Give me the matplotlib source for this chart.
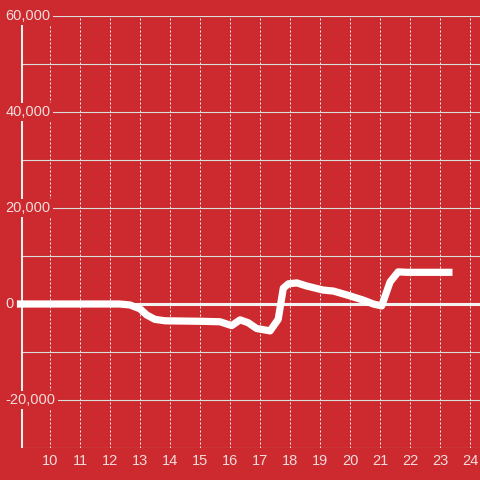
import matplotlib
matplotlib.use("Agg")
import matplotlib.pyplot as plt
from matplotlib.transforms import blended_transform_factory

# hour of day vs. cumulative value
hours = [9.0, 12.3, 12.65, 12.98, 13.21, 13.48, 13.82, 15.0, 15.65, 16.04, 16.32,
         16.59, 16.87, 17.32, 17.59, 17.76, 17.93, 18.21, 18.54, 19.09, 19.43,
         19.98, 20.43, 20.76, 21.04, 21.32, 21.59, 21.87, 23.28]
values = [0, 0, -200, -1000, -2300, -3200, -3500, -3600, -3700, -4500, -3300,
          -3900, -5100, -5600, -3200, 3300, 4200, 4400, 3750, 2900, 2700,
          1700, 800, 0, -400, 4600, 6700, 6600, 6600]

x_ticks = list(range(10, 25))
y_grid = list(range(-30000, 60001, 10000))
y_labels = [-20000, 0, 20000, 40000, 60000]

bg = '#cc2a2e'
txt = '#f4dcdc'
plt.rcParams['font.family'] = ['Liberation Sans', 'DejaVu Sans']

fig = plt.figure(figsize=(4.8, 4.8), dpi=100, facecolor=bg)
ax = fig.add_axes([20.5 / 480, 32 / 480, 459.5 / 480, 432 / 480], facecolor=bg)
ax.set_xlim(9, 24.317)
ax.set_ylim(-30000, 60000)
for s in ax.spines.values():
    s.set_visible(False)

ax.set_axisbelow(True)
ax.set_yticks(y_grid)
ax.set_yticklabels([])
ax.set_xticks(x_ticks)
ax.set_xticklabels([str(t) for t in x_ticks])
ax.tick_params(axis='both', length=0)
ax.tick_params(axis='x', pad=4.5, labelsize=10.5, labelcolor=txt)
ax.grid(axis='y', color='#dcdcdc', lw=0.8, ls='-')
ax.grid(axis='x', color='#eeeeee', lw=0.72, ls=(0, (2, 2)))

# y axis line and zero line
ax.axvline(9, color='#f0f0f0', lw=2.2, zorder=0.6)
ax.axhline(0, color='#f2f2f2', lw=2.2, zorder=1)

ax.plot(hours, values, color='white', lw=5.2, solid_joinstyle='round',
        solid_capstyle='projecting', clip_on=False, zorder=2)

trans = blended_transform_factory(fig.transFigure, ax.transData)
for v in y_labels:
    ax.text(5.5 / 480, v, f'{v:,}', transform=trans, ha='left', va='center',
            fontsize=10.5, color=txt, zorder=3,
            bbox=dict(facecolor=bg, edgecolor='none', pad=1.6))

fig.savefig('out.png', dpi=100, facecolor=bg)
